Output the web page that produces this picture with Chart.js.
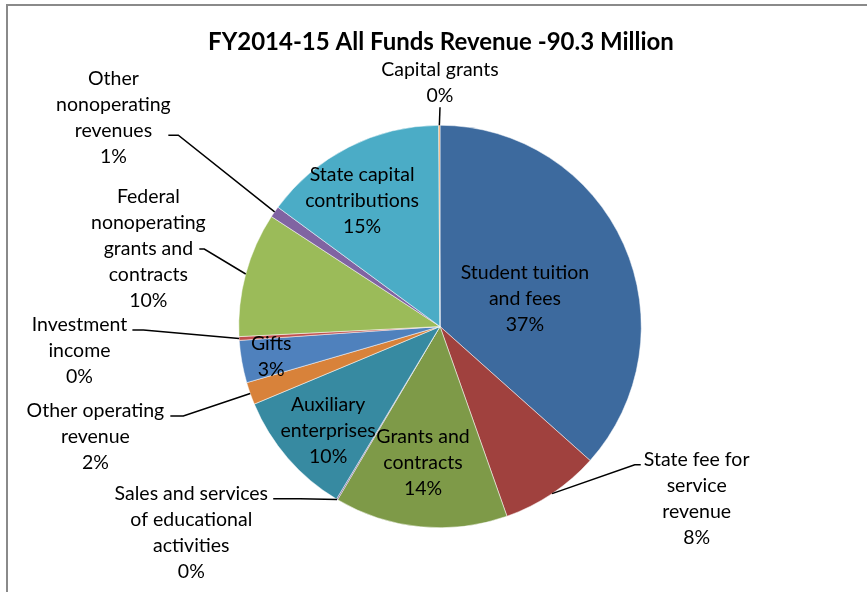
<!DOCTYPE html>
<html><head><meta charset="utf-8">
<script src="https://cdn.jsdelivr.net/npm/chart.js@4"></script>
<style>html,body{margin:0;padding:0;background:#fff}#wrap{position:relative;width:867px;height:592px}</style>
</head><body><div id="wrap"><canvas id="c" width="867" height="592"></canvas></div>
<script>
// ---- data ----
const chartTitle = "FY2014-15 All Funds Revenue -90.3 Million";
const categories = [
  ["Student tuition", "and fees"],
  ["State fee for", "service", "revenue"],
  ["Grants and", "contracts"],
  ["Sales and services", "of educational", "activities"],
  ["Auxiliary", "enterprises"],
  ["Other operating", "revenue"],
  ["Gifts"],
  ["Investment", "income"],
  ["Federal", "nonoperating", "grants and", "contracts"],
  ["Other", "nonoperating", "revenues"],
  ["State capital", "contributions"],
  ["Capital grants"]
];
const sharePercent = [36.6, 8.0, 13.9, 0.1, 10.1, 1.8, 3.4, 0.3, 10.0, 0.9, 14.8, 0.1];
const sliceColors = ["#3D6A9E", "#A0413E", "#7E9A48", "#684F89", "#378AA1", "#D8823A",
                     "#4F81BD", "#C0504D", "#9BBB59", "#8064A2", "#4BACC6", "#F79646"];

// ---- label layout (offsets from pie centre, in px at reference radius 201.5) ----
const labelLayout = [
  {dx: 85,   dy: -27.5},
  {dx: 257,  dy: 172.5, leader: [[195, 138.5], [201, 138.5]]},
  {dx: -17,  dy: 136.5},
  {dx: -249, dy: 206.5, leader: [[-140, 172.5], [-167, 172.5]]},
  {dx: -112, dy: 104.5},
  {dx: -345, dy: 110.5, leader: [[-257, 89.5], [-270, 89.5]]},
  {dx: -169, dy: 30.5},
  {dx: -361, dy: 24.5, leader: [[-297, 3.5], [-308, 3.5]]},
  {dx: -292, dy: -78, leader: [[-236, -77.5], [-241, -77.5]]},
  {dx: -327, dy: -209.5, leader: [[-262, -191.5], [-272, -191.5]]},
  {dx: -78,  dy: -125.5},
  {dx: 0,    dy: -244, leader: [[0, -219.5], [0, -219.5]]}
];
const REF_R = 201.5;
const FONT_FAMILY = "Lato, 'Open Sans', sans-serif";

const labelPlugin = {
  id: 'excelLabels',
  beforeDraw(chart) {
    const ctx = chart.ctx;
    ctx.save();
    ctx.fillStyle = '#fff';
    ctx.fillRect(0, 0, chart.width, chart.height);
    ctx.strokeStyle = '#8a8a8a';
    ctx.lineWidth = 2;
    ctx.strokeRect(7, 5, 2000, 2000);
    ctx.restore();
  },
  afterDraw(chart) {
    const ctx = chart.ctx;
    const meta = chart.getDatasetMeta(0);
    const total = sharePercent.reduce((a, b) => a + b, 0);
    const a0 = meta.data[0];
    const cx = a0.x, cy = a0.y, r = a0.outerRadius;
    const s = r / REF_R;
    ctx.save();
    // title
    ctx.fillStyle = '#000';
    ctx.font = "bold 24px " + FONT_FAMILY;
    ctx.textAlign = 'center';
    ctx.textBaseline = 'middle';
    ctx.fillText(chartTitle, cx + 1, cy - 284.5 * s);
    // labels
    ctx.font = "19.5px " + FONT_FAMILY;
    const lh = 26;
    meta.data.forEach((arc, i) => {
      const lay = labelLayout[i];
      const lines = categories[i].concat([Math.round(sharePercent[i] / total * 100) + '%']);
      const lx = cx + lay.dx * s, ly = cy + lay.dy * s;
      if (lay.leader) {
        const mid = (arc.startAngle + arc.endAngle) / 2;
        ctx.beginPath();
        ctx.moveTo(cx + r * Math.cos(mid), cy + r * Math.sin(mid));
        lay.leader.forEach(p => ctx.lineTo(cx + p[0] * s, cy + p[1] * s));
        ctx.strokeStyle = '#000';
        ctx.lineWidth = 1.5;
        ctx.stroke();
      }
      ctx.fillStyle = '#000';
      lines.forEach((t, k) => {
        ctx.fillText(t, lx, ly + (k - (lines.length - 1) / 2) * lh);
      });
    });
    ctx.restore();
  }
};

new Chart(document.getElementById('c'), {
  type: 'pie',
  data: {
    labels: categories,
    datasets: [{
      data: sharePercent,
      backgroundColor: sliceColors,
      borderColor: '#ffffff',
      borderWidth: 0.5
    }]
  },
  options: {
    responsive: false,
    animation: false,
    devicePixelRatio: 1,
    layout: {padding: {left: 238.5, right: 225.5, top: 125, bottom: 64}},
    plugins: {legend: {display: false}, tooltip: {enabled: false}, title: {display: false}},
    events: []
  },
  plugins: [labelPlugin]
});
</script></body></html>
